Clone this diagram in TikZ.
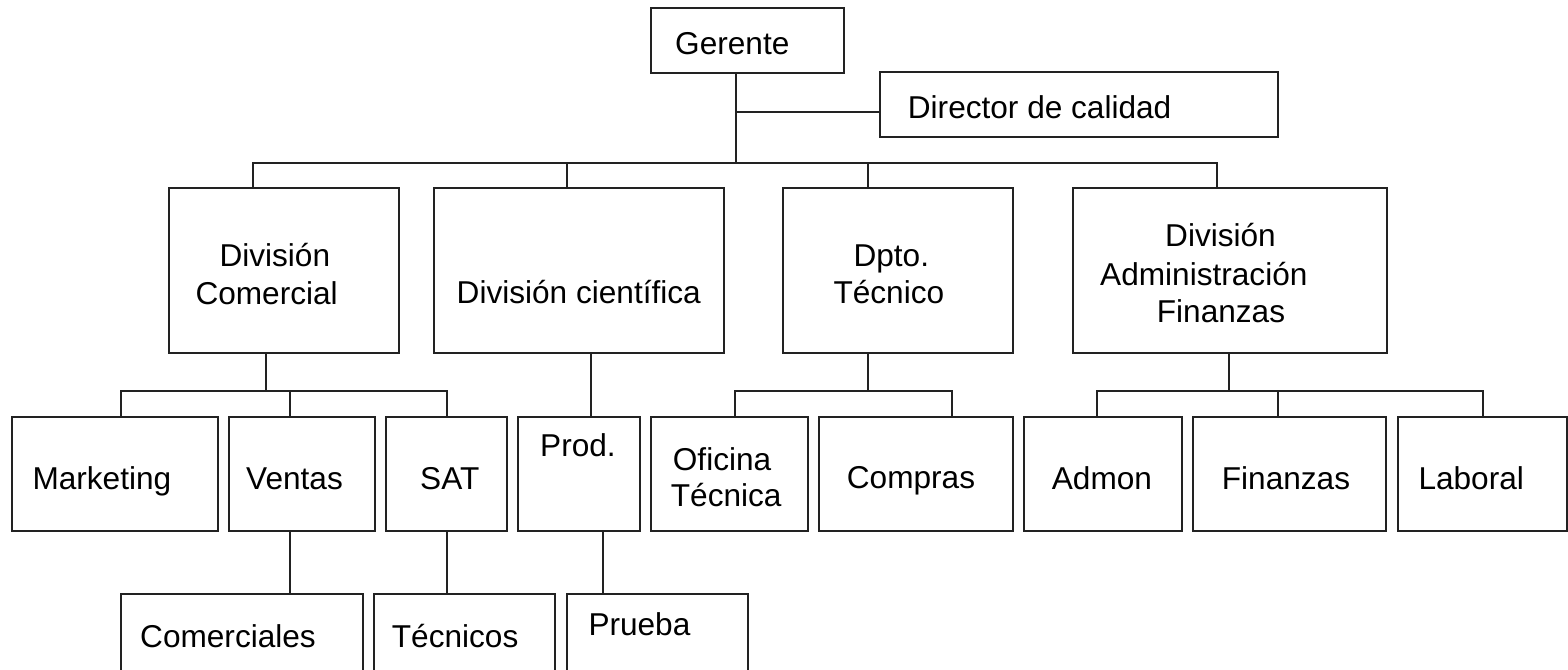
\documentclass[tikz,border=0pt]{standalone}
\usepackage{fontspec}
\setmainfont{Liberation Sans}
\usetikzlibrary{fit}
\definecolor{linegray}{HTML}{222222}
\begin{document}
\begin{tikzpicture}[x=1pt,y=-1pt,
  box/.style={draw=linegray, line width=1.9pt, inner sep=0pt, rectangle},
  lbl/.style={anchor=base west, inner sep=0pt, text=black,
              font=\fontsize{31.6}{37.5}\selectfont},
  link/.style={draw=linegray, line width=1.9pt}]
\useasboundingbox (0,0) rectangle (1568,669);
\fill[white] (0,0) rectangle (1568,669);
\clip (0,0) rectangle (1568,669);

% ---- boxes ----
\node[box, fit={(651,8) (844,73)}] (gerente) {};
\node[box, fit={(880,72) (1278,137)}] (director) {};
\node[box, fit={(169,188) (399,353)}] (divcom) {};
\node[box, fit={(434,188) (724,353)}] (divcient) {};
\node[box, fit={(783,188) (1013,353)}] (dpto) {};
\node[box, fit={(1073,188) (1387,353)}] (divadm) {};
\node[box, fit={(12,417) (218,531)}] (marketing) {};
\node[box, fit={(229,417) (375,531)}] (ventas) {};
\node[box, fit={(386,417) (507,531)}] (sat) {};
\node[box, fit={(518,417) (640,531)}] (prod) {};
\node[box, fit={(651,417) (808,531)}] (oficina) {};
\node[box, fit={(819,417) (1013,531)}] (compras) {};
\node[box, fit={(1024,417) (1182,531)}] (admon) {};
\node[box, fit={(1193,417) (1386,531)}] (finanzas) {};
\node[box, fit={(1398,417) (1567,531)}] (laboral) {};
\node[box, fit={(121,594) (363,700)}] (comerciales) {};
\node[box, fit={(374,594) (555,700)}] (tecnicos) {};
\node[box, fit={(567,594) (748,700)}] (prueba) {};

% ---- labels ----
\node[lbl] (t-gerente) at (675,55) {Gerente};
\node[lbl] (t-director) at (907.7,118) {Director de calidad};
\node[lbl] (t-divcom1) at (219.3,266.7) {División};
\node[lbl] (t-divcom2) at (195.3,304) {Comercial};
\node[lbl] (t-divcient) at (456.5,303.3) {División científica};
\node[lbl] (t-dpto1) at (853.3,266) {Dpto.};
\node[lbl] (t-dpto2) at (833.3,303.3) {Técnico};
\node[lbl] (t-divadm1) at (1165,246.7) {División};
\node[lbl] (t-divadm2) at (1100,285) {Administración};
\node[lbl] (t-divadm3) at (1156.7,322.7) {Finanzas};
\node[lbl] (t-marketing) at (32.3,489.3) {Marketing};
\node[lbl] (t-ventas) at (246,489.3) {Ventas};
\node[lbl] (t-sat) at (420,489.3) {SAT};
\node[lbl] (t-prod) at (540,456.7) {Prod.};
\node[lbl] (t-oficina1) at (672.7,470.7) {Oficina};
\node[lbl] (t-oficina2) at (670.7,506.7) {Técnica};
\node[lbl] (t-compras) at (846.7,488.3) {Compras};
\node[lbl] (t-admon) at (1051.7,489.3) {Admon};
\node[lbl] (t-finanzas) at (1221.7,489.3) {Finanzas};
\node[lbl] (t-laboral) at (1418.3,489.3) {Laboral};
\node[lbl] (t-comerciales) at (140,647.7) {Comerciales};
\node[lbl] (t-tecnicos) at (391.7,647.7) {Técnicos};
\node[lbl] (t-prueba) at (588.3,635) {Prueba};

% ---- top level ----
\coordinate (top-l) at (253.3,163);
\coordinate (top-c) at (567,163);
\coordinate (top-g) at (735.7,163);
\coordinate (top-t) at (867.8,163);
\coordinate (top-r) at (1217.3,163);
\coordinate (q-j) at (735.7,112.3);
\draw[link] (gerente.south -| top-g) -- (top-g);
\draw[link] (q-j) -- (q-j -| director.west);
\draw[link] (top-l |- divcom.north) -- (top-l) -- (top-r) -- (top-r |- divadm.north);
\draw[link] (top-c) -- (top-c |- divcient.north);
\draw[link] (top-t) -- (top-t |- dpto.north);

% ---- División Comercial ----
\coordinate (cm-l) at (121,391);
\coordinate (cm-m) at (265.7,391);
\coordinate (cm-v) at (290,391);
\coordinate (cm-r) at (446.7,391);
\draw[link] (divcom.south -| cm-m) -- (cm-m);
\draw[link] (cm-l |- marketing.north) -- (cm-l) -- (cm-r) -- (cm-r |- sat.north);
\draw[link] (cm-v) -- (cm-v |- ventas.north);
\draw[link] (ventas.south -| cm-v) -- (cm-v |- comerciales.north);
\draw[link] (sat.south -| cm-r) -- (cm-r |- tecnicos.north);

% ---- División científica ----
\coordinate (ci-x) at (591,353);
\coordinate (pr-x) at (603,531);
\draw[link] (divcient.south -| ci-x) -- (ci-x |- prod.north);
\draw[link] (prod.south -| pr-x) -- (pr-x |- prueba.north);

% ---- Dpto. Técnico ----
\coordinate (dt-l) at (735.3,391);
\coordinate (dt-m) at (868.3,391);
\coordinate (dt-r) at (952.3,391);
\draw[link] (dpto.south -| dt-m) -- (dt-m);
\draw[link] (dt-l |- oficina.north) -- (dt-l) -- (dt-r) -- (dt-r |- compras.north);

% ---- División Administración Finanzas ----
\coordinate (ad-l) at (1096.7,391);
\coordinate (ad-m) at (1229.3,391);
\coordinate (ad-f) at (1277.7,391);
\coordinate (ad-r) at (1482.7,391);
\draw[link] (divadm.south -| ad-m) -- (ad-m);
\draw[link] (ad-l |- admon.north) -- (ad-l) -- (ad-r) -- (ad-r |- laboral.north);
\draw[link] (ad-f) -- (ad-f |- finanzas.north);
\end{tikzpicture}
\end{document}
